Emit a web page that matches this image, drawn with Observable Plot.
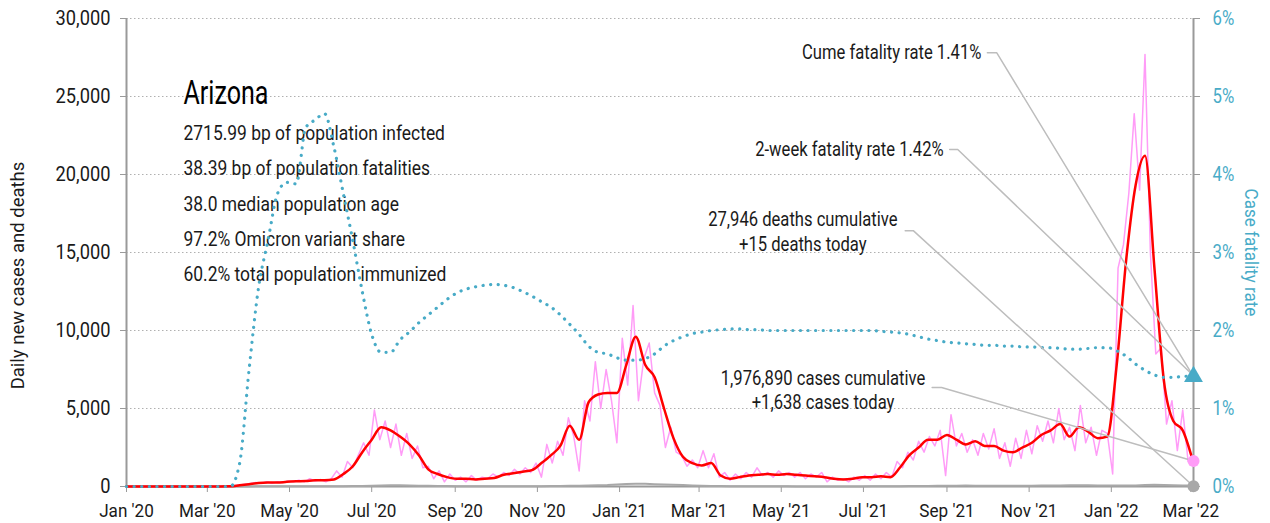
<!DOCTYPE html>
<html>
<head>
<meta charset="utf-8">
<script src="https://cdn.jsdelivr.net/npm/d3@7"></script>
<script src="https://cdn.jsdelivr.net/npm/@observablehq/plot@0.6"></script>
<style>
  html, body { margin: 0; padding: 0; background: #fff; }
  #chart svg { display: block; }
</style>
</head>
<body>
<div id="chart"></div>
<script>
// ---------------- DATA ----------------
const seriesStart = "2020-01-01";
const latestDay = "2022-03-03";

// daily new cases, one reading every 4 days from seriesStart
const dailyCases = [
  0,0,0,0,0,0,0,0,0,0,0,0,0,0,0,0,0,0,0,0,
  50,100,150,200,250,200,300,200,300,250,350,300,400,300,500,350,450,300,500,
  1000,600,1600,1200,2000,2800,2000,4900,3000,4200,2500,4000,2000,3400,1800,2600,1200,1300,500,1000,300,
  800,400,600,300,700,400,600,500,800,600,900,700,1100,800,1200,900,1500,600,2700,1500,2900,2000,4400,3200,
  1000,5500,4200,8000,5000,7500,5500,2800,9500,6500,11600,5500,8200,9200,6000,5200,
  2500,3800,2200,2000,1300,1700,1200,2300,1200,2100,600,900,400,800,500,900,600,1200,700,900,
  600,1000,700,900,600,900,500,800,600,900,300,600,400,500,300,600,400,700,400,800,500,900,600,
  1600,1200,2200,1700,2900,2200,3200,2600,3600,700,4600,2600,3400,2200,3000,2000,3400,2400,3700,1800,
  2800,1300,3100,1800,3600,2100,3900,2900,4200,2800,5000,3000,3800,2300,5200,2800,3800,2000,3600,3400,
  800,14000,15500,18800,23900,19000,27700,15000,8500,8900,4000,5500,2300,4900,1600
];

// 7-day average of new cases, one reading per week from seriesStart
const avgCases = [
  0,0,0,0,0,0,0,0,0,0,0,
  10,80,150,220,250,250,300,330,350,400,400,450,
  800,1300,2200,3000,3800,3600,3200,2700,2000,1100,800,600,500,
  500,450,500,550,750,850,950,1050,1500,2000,2600,3900,3000,
  5400,5900,6000,6000,7800,9600,7800,7000,5000,3100,1900,1500,1350,1500,
  700,500,600,700,750,800,750,800,750,700,650,600,500,450,500,600,600,650,600,
  1200,2000,2500,3000,3000,3300,3000,2700,2900,2600,2600,2300,2200,2500,2800,3300,3600,4000,3200,3800,3500,3100,3200,
  7800,14500,19300,21200,14000,6800,4200,3600,1800
];

// daily deaths (weekly reading)
const avgDeaths = [
  0,0,0,0,0,0,0,0,0,0,0,0,
  5,8,12,15,18,20,20,18,17,15,15,20,25,35,
  50,70,80,75,65,55,45,35,25,20,15,12,10,10,
  10,12,12,15,18,25,35,45,55,70,85,100,130,160,
  180,170,150,130,110,90,70,50,40,30,20,15,12,10,10,10,10,8,8,8,7,7,
  7,8,8,10,12,15,20,25,35,40,45,50,55,60,55,50,50,45,45,50,55,60,
  65,70,75,80,75,70,70,60,60,70,90,110,100,85,70,60
];

// case fatality rate in percent (weekly reading)
const cfrPct = [
  0,0,0,0,0,0,0,0,0,0,0,0,
  0.3,1.5,2.55,3.15,3.75,3.9,3.88,4.6,4.7,4.78,4.35,3.75,3.15,2.5,
  1.95,1.72,1.72,1.88,1.98,2.1,2.2,2.3,2.4,2.48,2.53,2.56,2.58,2.59,
  2.58,2.55,2.5,2.44,2.37,2.3,2.2,2.08,1.95,1.8,1.72,1.7,1.65,1.62,
  1.62,1.64,1.7,1.8,1.87,1.92,1.96,1.98,2.0,2.01,2.02,2.02,2.01,2.01,2.0,2.0,2.0,2.0,2.0,2.0,2.0,2.0,
  2.0,2.0,2.0,2.0,1.99,1.98,1.97,1.95,1.92,1.89,1.87,1.85,1.84,1.83,1.82,1.81,1.81,1.8,1.8,1.79,1.79,1.78,
  1.78,1.77,1.76,1.76,1.77,1.78,1.78,1.74,1.67,1.57,1.49,1.43,1.4,1.4,1.41,1.42
];

const casesToday = 1638;
const deathsToday = 15;
const cumeCFR = 1.41;
const twoWeekCFR = 1.42;

const leftTicks = [0, 5000, 10000, 15000, 20000, 25000, 30000];
const rightTicks = [0, 1, 2, 3, 4, 5, 6];
const xTickDays = ["2020-01-01","2020-03-01","2020-05-01","2020-07-01","2020-09-01","2020-11-01",
                   "2021-01-01","2021-03-01","2021-05-01","2021-07-01","2021-09-01","2021-11-01",
                   "2022-01-01","2022-03-01"];

const stateName = "Arizona";
const statLines = [
  "2715.99 bp of population infected",
  "38.39 bp of population fatalities",
  "38.0 median population age",
  "97.2% Omicron variant share",
  "60.2% total population immunized"
];
const cumeLabel = "Cume fatality rate 1.41%";
const twoWeekLabel = "2-week fatality rate 1.42%";
const deathsLines = ["27,946 deaths cumulative", "+15 deaths today"];
const casesLines = ["1,976,890 cases cumulative", "+1,638 cases today"];
const leftTitle = "Daily new cases and deaths";
const rightTitle = "Case fatality rate";

// ---------------- BUILD ----------------
const parse = d3.utcParse("%Y-%m-%d");
const start = parse(seriesStart);
const latest = parse(latestDay);
const k = d3.max(leftTicks) / d3.max(rightTicks); // right-axis percent -> left units
const leftFmt = d3.format(",");
const rightFmt = d => d / k + "%";
const xFmt = d3.utcFormat("%b '%y");

const pinkData = dailyCases.map((v, i) => ({date: d3.utcDay.offset(start, 4 * i), v}))
  .concat([{date: latest, v: casesToday}]);
const weekly = arr => arr.map((v, i) => ({date: d3.utcDay.offset(start, 7 * i), v}));
const redData = weekly(avgCases);
const deathData = weekly(avgDeaths);
const cfrData = weekly(cfrPct);

const TEAL = "#48abc7";
const PINK = "#ff9cf7";
const RED = "#ff0000";
const AXIS = "#9a9a9a";
const LEAD = "#bdbdbd";
const INK = "#1a1a1a";
const FONT = 'Roboto, "Liberation Sans", sans-serif';

// horizontal condensing per text (the original uses a condensed face)
const squeezeOf = new Map();
leftTicks.forEach(d => squeezeOf.set(leftFmt(d), 0.87));
rightTicks.forEach(d => squeezeOf.set(rightFmt(d * k), 0.8));
xTickDays.forEach(d => squeezeOf.set(xFmt(parse(d)), 0.9));
squeezeOf.set(stateName, 0.76);
statLines.forEach(s => squeezeOf.set(s, 0.83));
[cumeLabel, twoWeekLabel, ...deathsLines, ...casesLines].forEach(s => squeezeOf.set(s, 0.83));
squeezeOf.set(leftTitle, 1.0);
squeezeOf.set(rightTitle, 0.92);

const leaders = [
  {id: "cume", date: parse("2021-10-01"), v: 27800},
  {id: "cume", date: parse("2021-10-08"), v: 27800},
  {id: "cume", date: latest, v: cumeCFR * k},
  {id: "two", date: parse("2021-09-03"), v: 21600},
  {id: "two", date: parse("2021-09-09"), v: 21600},
  {id: "two", date: latest, v: twoWeekCFR * k},
  {id: "deaths", date: parse("2021-08-01"), v: 16400},
  {id: "deaths", date: parse("2021-08-07"), v: 16400},
  {id: "deaths", date: latest, v: deathsToday},
  {id: "cases", date: parse("2021-08-21"), v: 6350},
  {id: "cases", date: parse("2021-08-28"), v: 6350},
  {id: "cases", date: latest, v: casesToday}
];

const chart = Plot.plot({
  width: 1270,
  height: 523,
  marginLeft: 126,
  marginRight: 77,
  marginTop: 18,
  marginBottom: 37,
  style: {fontFamily: FONT, background: "#fff", color: INK},
  x: {type: "utc", domain: [start, latest], axis: null},
  y: {domain: [0, 30000], axis: null, label: null},
  marks: [
    Plot.gridY(leftTicks.slice(1), {stroke: "#b0b0b0", strokeOpacity: 1, strokeDasharray: "1.5,2.5"}),
    // axes
    Plot.axisY(leftTicks, {anchor: "left", label: null, tickFormat: leftFmt, tickSize: 6, tickPadding: 10,
      stroke: AXIS, fill: INK, fontSize: 21}),
    Plot.axisY(rightTicks.map(d => d * k), {anchor: "right", label: null, tickFormat: rightFmt,
      tickSize: 6, tickPadding: 13, stroke: AXIS, fill: TEAL, fontSize: 21}),
    Plot.axisX(xTickDays.map(parse), {anchor: "bottom", label: null, tickFormat: xFmt,
      tickSize: 6, tickPadding: 11, stroke: AXIS, fill: INK, fontSize: 19}),
    Plot.ruleX([start, latest], {stroke: AXIS, strokeWidth: 2}),
    Plot.ruleY([0], {stroke: AXIS, strokeWidth: 2}),
    // axis titles
    Plot.text([leftTitle], {frameAnchor: "left", textAnchor: "middle", rotate: -90, dx: -108, dy: 23,
      fontSize: 18.5, fill: INK}),
    Plot.text([rightTitle], {frameAnchor: "right", textAnchor: "middle", rotate: 90, dx: 57,
      fontSize: 18.5, fill: TEAL}),
    // stats block
    Plot.text([stateName], {frameAnchor: "top-left", dx: 57, dy: 62, lineAnchor: "top",
      fontSize: 33, fill: "#000"}),
    Plot.text([statLines.join("\n")], {frameAnchor: "top-left", dx: 57, dy: 97, lineAnchor: "top",
      lineHeight: 1.67, fontSize: 21, fill: INK}),
    // series
    Plot.line(deathData, {x: "date", y: "v", stroke: "#a8a8a8", strokeWidth: 2}),
    Plot.line(pinkData, {x: "date", y: "v", stroke: PINK, strokeWidth: 1.5}),
    Plot.line(redData, {x: "date", y: "v", stroke: RED, strokeWidth: 2.5, curve: "monotone-x"}),
    Plot.line(cfrData, {x: "date", y: d => d.v * k, stroke: TEAL, strokeWidth: 3.2,
      strokeDasharray: "0.1,7.5", strokeLinecap: "round", curve: "monotone-x"}),
    // leaders + annotations
    Plot.line(leaders, {x: "date", y: "v", z: "id", stroke: LEAD, strokeWidth: 1.5}),
    Plot.text([cumeLabel], {x: () => parse("2021-10-01"), y: () => 27800, dx: -6, textAnchor: "end",
      fontSize: 20, fill: INK}),
    Plot.text([twoWeekLabel], {x: () => parse("2021-09-03"), y: () => 21600, dx: -6, textAnchor: "end",
      fontSize: 20, fill: INK}),
    Plot.text([deathsLines.join("\n")], {x: () => parse("2021-05-17"), y: () => 16400, lineHeight: 1.25,
      fontSize: 20, fill: INK}),
    Plot.text([casesLines.join("\n")], {x: () => parse("2021-06-01"), y: () => 6200, lineHeight: 1.2,
      fontSize: 20, fill: INK}),
    // end markers
    Plot.dot([{date: latest, v: deathsToday}], {x: "date", y: "v", r: 6, fill: "#a8a8a8"}),
    Plot.dot([{date: latest, v: casesToday}], {x: "date", y: "v", r: 6, fill: PINK}),
    Plot.dot([{date: latest, v: cumeCFR * k}], {x: "date", y: "v", r: 7, symbol: "triangle", fill: TEAL})
  ]
});
document.getElementById("chart").appendChild(chart);

// condense text horizontally, keeping anchors
chart.querySelectorAll("text").forEach(t => {
  const spans = t.querySelectorAll("tspan");
  const items = spans.length ? Array.from(spans) : [t];
  items.forEach(el => {
    const f = squeezeOf.get(el.textContent);
    if (f === undefined || f === 1) return;
    const L = el.getComputedTextLength();
    if (L > 0) {
      el.setAttribute("textLength", (L * f).toFixed(2));
      el.setAttribute("lengthAdjust", "spacingAndGlyphs");
    }
  });
});
</script>
</body>
</html>
